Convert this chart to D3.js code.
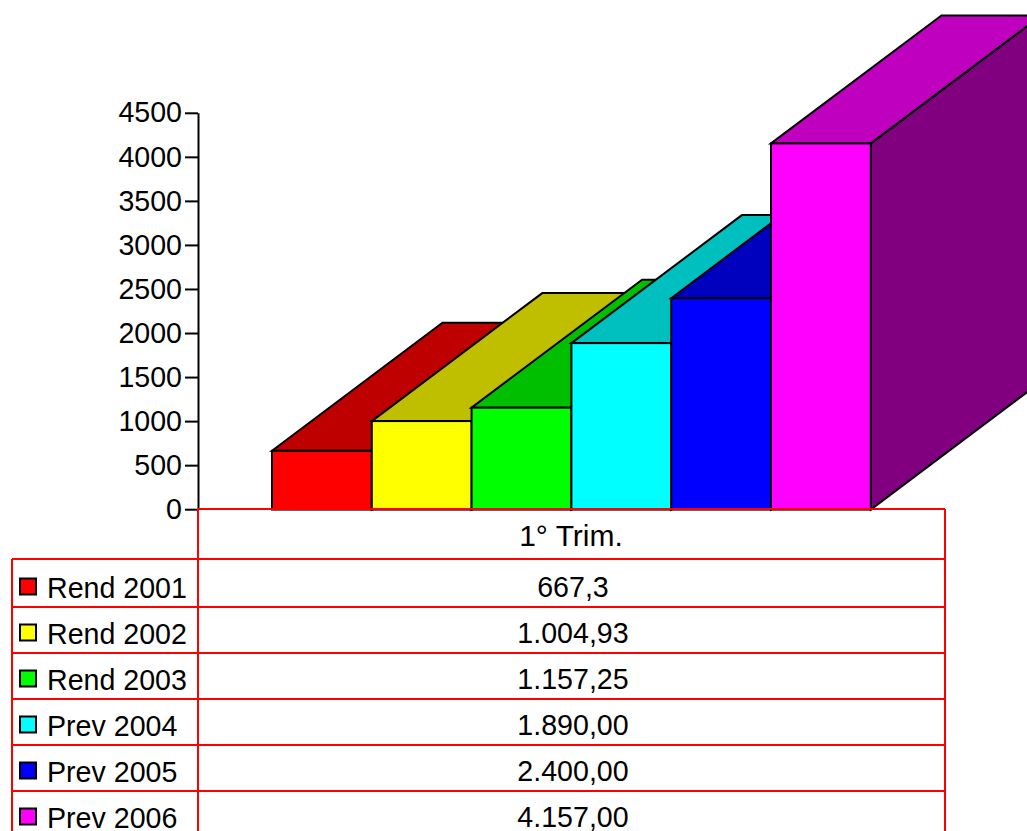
<!DOCTYPE html>
<html><head><meta charset="utf-8">
<script src="https://cdnjs.cloudflare.com/ajax/libs/d3/7.8.5/d3.min.js"></script>
<style>html,body{margin:0;padding:0;background:#fff;overflow:hidden}svg{display:block}text{font-family:"Liberation Sans",Arial,sans-serif;font-size:28.6px;fill:#000}</style>
</head><body><svg id="c" width="1027" height="831"></svg>
<script>
const seriesNames = ["Rend 2001","Rend 2002","Rend 2003","Prev 2004","Prev 2005","Prev 2006"];
const seriesValues = [667.3,1004.93,1157.25,1890,2400,4157];
const valueLabels = ["667,3","1.004,93","1.157,25","1.890,00","2.400,00","4.157,00"];
const frontColors = ["#ff0000","#ffff00","#00ff00","#00ffff","#0000ff","#ff00ff"];
const topColors = ["#bf0000","#bfbf00","#00bf00","#00bfbf","#0000bf","#bf00bf"];
const sideColors = ["#800000","#808000","#008000","#008080","#000080","#800080"];
const categoryLabel = "1° Trim.";
const yTicks = [0,500,1000,1500,2000,2500,3000,3500,4000,4500];
const rowLines = [509,559,607,653,699,745,791];

const svg = d3.select("#c");
const y = d3.scaleLinear().domain([0,4500]).range([509.6,113.2]);
const x = d3.scaleBand().domain(seriesNames).range([272,870.8]);
const depthX = 170.5, depthY = 128;
const pts = a => a.map(p=>p.join(",")).join(" ");

const bars = svg.append("g").attr("stroke","#000").attr("stroke-width",2).attr("stroke-linejoin","miter");
seriesNames.forEach((n,i)=>{
  const x0=x(n), x1=x0+x.bandwidth(), yt=y(seriesValues[i]), yb=y(0);
  bars.append("polygon").attr("points",pts([[x1,yt],[x1+depthX,yt-depthY],[x1+depthX,yb-depthY],[x1,yb]])).attr("fill",sideColors[i]);
  bars.append("polygon").attr("points",pts([[x0,yt],[x0+depthX,yt-depthY],[x1+depthX,yt-depthY],[x1,yt]])).attr("fill",topColors[i]);
  bars.append("rect").attr("x",x0).attr("y",yt).attr("width",x.bandwidth()).attr("height",yb-yt).attr("fill",frontColors[i]);
});

const axis = svg.append("g").attr("transform","translate(198,-0.4)")
  .call(d3.axisLeft(y).tickValues(yTicks).tickFormat(d3.format("d")).tickSize(13).tickSizeOuter(0).tickPadding(3));
axis.selectAll("path,line").attr("stroke","#000").attr("stroke-width",2);
axis.selectAll("text").style("font-size","28.6px").style("font-family","'Liberation Sans',Arial,sans-serif").attr("fill","#000");

const table = svg.append("g").attr("stroke","#ff0000").attr("stroke-width",2);
rowLines.forEach((ly,i)=>{
  table.append("line").attr("x1",i<1?198:12).attr("x2",945).attr("y1",ly).attr("y2",ly);
});
table.append("line").attr("x1",198).attr("x2",198).attr("y1",509).attr("y2",831);
table.append("line").attr("x1",945).attr("x2",945).attr("y1",509).attr("y2",831);
table.append("line").attr("x1",12).attr("x2",12).attr("y1",559).attr("y2",831);

const labels = svg.append("g");
const rowText = [587,633,679,725,771,817];
labels.append("text").attr("x",571).attr("y",535).attr("dy","0.35em").attr("text-anchor","middle").style("font-size","30px").text(categoryLabel);
seriesNames.forEach((n,i)=>{
  labels.append("rect").attr("x",20).attr("y",rowText[i]-8.5).attr("width",16).attr("height",16).attr("fill",frontColors[i]).attr("stroke","#000").attr("stroke-width",2);
  labels.append("text").attr("x",47).attr("y",rowText[i]+1).attr("dy","0.35em").text(n);
  labels.append("text").attr("x",573).attr("y",rowText[i]).attr("dy","0.35em").attr("text-anchor","middle").text(valueLabels[i]);
});
</script></body></html>
